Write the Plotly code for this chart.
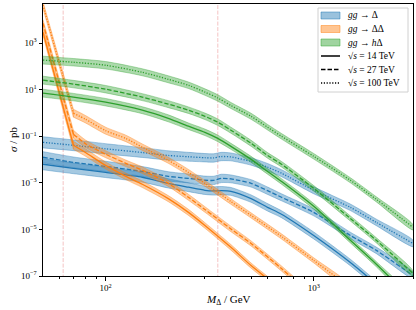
import plotly.graph_objects as go

# ---------------- data ----------------
# gg -> Delta
M_SINGLE = [50, 70, 100, 150, 200, 250, 300, 330, 360, 400, 500, 600, 700, 1000, 1500, 2000, 3000]
SIG_D_14 = [6.3e-3, 4.2e-3, 2.8e-3, 1.74e-3, 9.5e-4, 6.5e-4, 4.8e-4, 4.5e-4, 4.6e-4, 4.3e-4,
            2.1e-4, 8.9e-5, 4.5e-5, 5.5e-6, 3.8e-7, 4.3e-8, 1.3e-9]
SIG_D_27 = [1.26e-2, 7.6e-3, 5.1e-3, 3.1e-3, 1.9e-3, 1.55e-3, 1.29e-3, 1.27e-3, 1.55e-3, 1.48e-3,
            9.5e-4, 4.6e-4, 2.4e-4, 5.4e-5, 5.5e-6, 1.26e-6, 1.05e-7]
SIG_D_100 = [5.5e-2, 4.1e-2, 2.9e-2, 2.0e-2, 1.5e-2, 1.32e-2, 1.2e-2, 1.17e-2, 1.35e-2, 1.3e-2,
             8.3e-3, 4.7e-3, 2.6e-3, 4.8e-4, 8.9e-5, 2.0e-5, 2.5e-6]
UNC_D = [0.24, 0.23, 0.22, 0.21, 0.2, 0.19, 0.18, 0.18, 0.18, 0.17, 0.16, 0.16, 0.15, 0.15, 0.14, 0.14, 0.14]

# gg -> Delta Delta (on-shell h -> Delta Delta region below the kink at 70 GeV)
M_PAIR = [50, 70, 80, 100, 125, 150, 200, 250, 300, 400, 500, 700, 1000, 1500]
SIG_DD_14 = [2.95e3, 4.1e-2, 2.0e-2, 5.6e-3, 1.9e-3, 8.7e-4, 2.1e-4, 5.4e-5, 1.48e-5, 1.7e-6,
             2.8e-7, 2.4e-8, 1e-9, 1e-10]
SIG_DD_27 = [7.2e3, 0.123, 0.048, 1.7e-2, 6.9e-3, 3.5e-3, 9.5e-4, 2.4e-4, 7.2e-5, 1.05e-5,
             2.5e-6, 2.1e-7, 1.3e-8, 1e-9]
SIG_DD_100 = [4.3e4, 0.98, 0.54, 0.174, 8.1e-2, 3.4e-2, 9.3e-3, 2.8e-3, 9.5e-4, 1.58e-4,
              4.0e-5, 5.0e-6, 4.7e-7, 3.2e-8]
UNC_DD = [0.15, 0.17, 0.16, 0.15, 0.14, 0.14, 0.13, 0.13, 0.12, 0.12, 0.11, 0.11, 0.11, 0.11]

# gg -> h Delta
M_HD = [50, 70, 100, 150, 200, 250, 300, 346, 400, 500, 600, 700, 1000, 1500, 2000, 3000]
SIG_HD_14 = [7.1, 4.8, 2.9, 1.32, 0.59, 0.27, 0.148, 0.081, 0.037, 1.02e-2, 3.1e-3, 1.15e-3,
             9.8e-5, 3.4e-6, 3.2e-7, 8.9e-9]
SIG_HD_27 = [25.7, 17.4, 10.5, 4.8, 2.4, 1.32, 0.72, 0.40, 0.182, 5.0e-2, 1.51e-2, 6.3e-3,
             5.8e-4, 2.95e-5, 3.4e-6, 1.29e-7]
SIG_HD_100 = [186, 151, 112, 56, 28, 15.5, 7.9, 4.4, 2.1, 0.72, 0.245, 0.10, 1.38e-2, 1.29e-3,
              1.95e-4, 1.23e-5]
UNC_HD = [0.17, 0.16, 0.16, 0.15, 0.15, 0.14, 0.14, 0.14, 0.13, 0.13, 0.12, 0.12, 0.12, 0.11, 0.11, 0.11]

REF_MASSES = [62.5, 346]          # m_h/2 and 2 m_t
PROCESS_NAMES = ["<i>gg</i> → Δ", "<i>gg</i> → ΔΔ", "<i>gg</i> → <i>h</i>Δ"]
ENERGY_NAMES = ["√<i>s</i> = 14 TeV", "√<i>s</i> = 27 TeV", "√<i>s</i> = 100 TeV"]

X_TICKS = [100, 1000]
X_TICK_TEXT = ["10<sup>2</sup>", "10<sup>3</sup>"]
X_MINOR = [60, 70, 80, 90, 200, 300, 400, 500, 600, 700, 800, 900, 2000, 3000]
Y_TICKS = [1e-7, 1e-5, 1e-3, 1e-1, 1e1, 1e3]
Y_TICK_TEXT = ["10<sup>−7</sup>", "10<sup>−5</sup>", "10<sup>−3</sup>", "10<sup>−1</sup>",
               "10<sup>1</sup>", "10<sup>3</sup>"]

# ---------------- styling ----------------
COLORS = [(31, 119, 180), (255, 127, 14), (44, 160, 44)]
DASHES = ["solid", "4.5px,2px", "1.2px,1.6px"]
FONT = "Liberation Serif"
W, H = 416, 310
ML, MR, MT, MB = 43, 3, 4, 34
PW, PH = W - ML - MR, H - MT - MB


def px(xp):
    return (xp - ML) / PW


def py(yp):
    return (H - MB - yp) / PH


fig = go.Figure()

for m in REF_MASSES:
    fig.add_trace(go.Scatter(x=[m, m], y=[1e-9, 1e6], mode="lines",
                             line=dict(color="rgba(214,39,40,0.28)", width=1, dash="4px,1.5px"),
                             showlegend=False, hoverinfo="skip"))

# (masses, series, uncertainty, smoothing, kink index: straight segment up to it)
processes = [
    (M_SINGLE, [SIG_D_14, SIG_D_27, SIG_D_100], UNC_D, 0.6, 0),
    (M_PAIR, [SIG_DD_14, SIG_DD_27, SIG_DD_100], UNC_DD, 0.7, 1),
    (M_HD, [SIG_HD_14, SIG_HD_27, SIG_HD_100], UNC_HD, 0.8, 0),
]


def add_piece(ms, sig, unc, rgb, dash, shape, smooth):
    r, g, b = rgb
    up = [s * 10 ** h for s, h in zip(sig, unc)]
    lo = [s / 10 ** h for s, h in zip(sig, unc)]
    line_kw = dict(shape=shape)
    if shape == "spline":
        line_kw["smoothing"] = smooth
    fig.add_trace(go.Scatter(
        x=list(ms) + list(ms)[::-1], y=up + lo[::-1],
        fill="toself", fillcolor=f"rgba({r},{g},{b},0.4)",
        line=dict(color=f"rgba({r},{g},{b},0.45)", width=0.8, **line_kw),
        mode="lines", showlegend=False, hoverinfo="skip"))
    return dict(color=f"rgb({r},{g},{b})", width=1.3, dash=dash, **line_kw)


for pi, (masses, series, unc, smooth, kink) in enumerate(processes):
    for si, sig in enumerate(series):
        pieces = []
        if kink:
            pieces.append((masses[:kink + 1], sig[:kink + 1], unc[:kink + 1], "linear"))
        pieces.append((masses[kink:], sig[kink:], unc[kink:], "spline"))
        for ms, sg, un, shape in pieces:
            lkw = add_piece(ms, sg, un, COLORS[pi], DASHES[si], shape, smooth)
            fig.add_trace(go.Scatter(x=ms, y=sg, mode="lines", line=lkw,
                                     showlegend=False, hoverinfo="skip"))

# ---------------- legend (drawn by hand to match compact matplotlib legend) ----------------
shapes = [dict(type="rect", xref="paper", yref="paper", layer="above",
               x0=px(318), x1=px(408), y0=py(92), y1=py(8),
               fillcolor="rgba(255,255,255,0.85)", line=dict(color="#d0d0d0", width=1))]
annotations = []
row_y = [15.5, 29, 42.5, 56, 69.5, 83]
for i in range(6):
    yc = row_y[i]
    if i < 3:
        r, g, b = COLORS[i]
        shapes.append(dict(type="rect", xref="paper", yref="paper", layer="above",
                           x0=px(321), x1=px(340), y0=py(yc + 3.5), y1=py(yc - 3.5),
                           fillcolor=f"rgba({r},{g},{b},0.45)",
                           line=dict(color=f"rgba({r},{g},{b},0.6)", width=0.8)))
        label = PROCESS_NAMES[i]
    else:
        shapes.append(dict(type="line", xref="paper", yref="paper", layer="above",
                           x0=px(321), x1=px(340), y0=py(yc), y1=py(yc),
                           line=dict(color="black", width=1.5, dash=DASHES[i - 3])))
        label = ENERGY_NAMES[i - 3]
    annotations.append(dict(xref="paper", yref="paper", x=px(346), y=py(yc),
                            xanchor="left", yanchor="middle", text=label, showarrow=False,
                            font=dict(family=FONT, size=9.5, color="black")))

# axis titles
annotations.append(dict(xref="paper", yref="paper", x=0.5, y=0, yshift=-15,
                        xanchor="center", yanchor="top", showarrow=False,
                        text="<i>M</i><sub>Δ</sub> / GeV", font=dict(family=FONT, size=11)))
annotations.append(dict(xref="paper", yref="paper", x=0, y=0.5, xshift=-38,
                        xanchor="left", yanchor="middle", textangle=-90, showarrow=False,
                        text="<i>σ</i> / pb", font=dict(family=FONT, size=11)))

fig.update_layout(
    width=W, height=H,
    margin=dict(l=ML, r=MR, t=MT, b=MB),
    paper_bgcolor="white", plot_bgcolor="white",
    font=dict(family=FONT, size=10, color="black"),
    showlegend=False,
    shapes=shapes, annotations=annotations,
    xaxis=dict(type="log", range=[1.69897, 3.4771], showgrid=False, zeroline=False,
               automargin=False,
               showline=True, linecolor="black", linewidth=1, mirror=True,
               ticks="outside", ticklen=3.5, tickcolor="black",
               tickvals=X_TICKS, ticktext=X_TICK_TEXT, tickfont=dict(size=9),
               minor=dict(tickvals=X_MINOR, ticks="outside", ticklen=2, tickcolor="black")),
    yaxis=dict(type="log", range=[-7, 4.68], showgrid=False, zeroline=False,
               automargin=False,
               showline=True, linecolor="black", linewidth=1, mirror=True,
               ticks="outside", ticklen=3.5, tickcolor="black",
               tickvals=Y_TICKS, ticktext=Y_TICK_TEXT, tickfont=dict(size=9)),
)

fig.write_html("out.html", config={"displayModeBar": False},
               post_script="document.body.style.margin='0';document.body.style.overflow='hidden';")
